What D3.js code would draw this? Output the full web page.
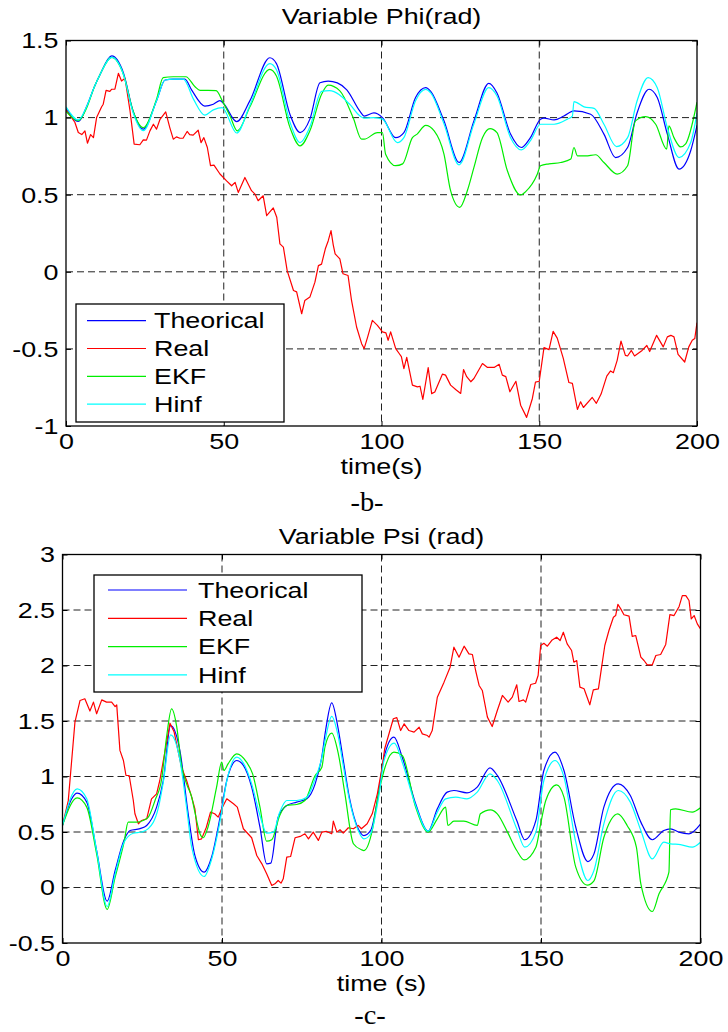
<!DOCTYPE html>
<html>
<head>
<meta charset="utf-8">
<script src="https://cdn.jsdelivr.net/npm/d3@7"></script>
<style>
  body { margin: 0; background: #fff; }
  svg { display: block; }
</style>
</head>
<body>
<div id="chart"></div>
<script>
// ---- data: [time (s), value (rad)] ----
var phiTheorical = [[0,1.06],[3.9,0.975],[6.5,1.07],[9,1.2],[10.8,1.28],[14.5,1.40],[18.2,1.29],[21.3,1.04],[24.5,0.925],[28.7,1.11],[31.4,1.244],[34,1.25],[37.7,1.25],[39.8,1.18],[44,1.075],[46.7,1.087],[48.8,1.11],[50,1.09],[54.1,0.974],[58.3,1.11],[64.6,1.388],[66.7,1.35],[71,1.02],[74.2,0.903],[77.3,0.99],[80.5,1.226],[83.1,1.237],[86,1.225],[89,1.18],[93.2,1.04],[94.5,1.01],[97.6,1.03],[100.3,1.0],[104.5,0.87],[107.1,0.903],[110.8,1.13],[114,1.194],[115.6,1.17],[119.8,0.979],[124.6,0.709],[129.3,0.979],[134,1.222],[136.6,1.16],[140.9,0.893],[144.3,0.806],[147.2,0.87],[150.4,0.99],[151.5,0.997],[154.7,0.985],[157.8,1.01],[161,1.043],[166.3,1.022],[170.5,0.893],[174.2,0.741],[178,0.806],[181,1.03],[184.8,1.184],[187.4,1.13],[190.6,0.893],[194.3,0.666],[198,0.785],[200,0.95]];

var phiReal = [[0,1.05],[0.7,1.03],[2.8,0.97],[3.9,0.903],[5,0.89],[6,0.914],[6.8,0.834],[7.8,0.89],[8.7,0.87],[9.7,1.0],[11.3,1.07],[11.8,1.087],[12.7,1.177],[13.9,1.17],[14.5,1.184],[15.5,1.184],[16.6,1.287],[17.6,1.237],[18.7,1.255],[20.3,1.043],[21.6,0.828],[23.4,0.824],[24.5,0.856],[25.5,0.854],[26.6,0.914],[27.7,0.957],[28.7,0.925],[29.8,0.989],[31.6,1.037],[32.9,0.935],[34,0.86],[35,0.875],[36.1,0.866],[37.1,0.866],[38.4,0.91],[39.2,0.89],[40.3,0.886],[41.9,0.918],[42.8,0.838],[43.7,0.87],[44.8,0.806],[45.8,0.688],[46.9,0.692],[48.8,0.634],[50.9,0.59],[52.5,0.558],[53.6,0.58],[54.6,0.515],[56.7,0.612],[58.8,0.526],[59.9,0.504],[60.9,0.461],[62.5,0.493],[63.6,0.364],[65.7,0.414],[66.8,0.354],[67.8,0.181],[68.9,0.16],[70.1,0.008],[72.1,-0.121],[73.1,-0.13],[74.7,-0.272],[75.7,-0.186],[77.3,-0.164],[78.9,-0.067],[80,0.04],[81,0.05],[82.2,0.149],[83.1,0.2],[84,0.267],[84.7,0.175],[85.3,0.116],[86.8,0.084],[87.8,-0.013],[89.4,-0.024],[90.5,-0.186],[92.1,-0.358],[93.7,-0.466],[94.5,-0.498],[95.6,-0.424],[97.1,-0.315],[98.7,-0.347],[100.3,-0.39],[101.4,-0.396],[102.1,-0.444],[102.9,-0.39],[104.5,-0.498],[105.6,-0.53],[106.3,-0.55],[107.1,-0.628],[108,-0.555],[109.8,-0.735],[111.4,-0.746],[112.2,-0.742],[113.1,-0.828],[114.8,-0.621],[115.9,-0.79],[116.9,-0.78],[119.3,-0.664],[120.3,-0.67],[121.9,-0.735],[123.5,-0.763],[125.1,-0.789],[126,-0.634],[127,-0.68],[128.3,-0.713],[129.3,-0.692],[132,-0.595],[133.6,-0.62],[135.7,-0.62],[137.3,-0.6],[138.3,-0.67],[139.4,-0.68],[140.7,-0.778],[142.6,-0.71],[144.1,-0.865],[146,-0.944],[147.8,-0.823],[148.8,-0.715],[150,-0.71],[151.5,-0.492],[153.1,-0.505],[154.4,-0.386],[155.7,-0.43],[157.6,-0.56],[159.4,-0.718],[160.5,-0.724],[162.1,-0.893],[163.1,-0.843],[164,-0.88],[166.8,-0.815],[168.1,-0.853],[169.6,-0.793],[171.4,-0.677],[172.6,-0.643],[173.5,-0.654],[174.7,-0.574],[175.9,-0.449],[177.3,-0.542],[178,-0.546],[179.2,-0.51],[180.2,-0.546],[182.6,-0.51],[184.1,-0.478],[185,-0.517],[187.2,-0.412],[189.3,-0.487],[190.6,-0.422],[191.7,-0.412],[192.7,-0.422],[194,-0.535],[196.1,-0.585],[197.4,-0.487],[198.5,-0.444],[199.3,-0.433],[200,-0.33]];

var phiEKF = [[0,1.04],[3.9,0.98],[6.5,1.06],[9,1.2],[10.8,1.28],[14.5,1.39],[18.2,1.28],[21.3,1.04],[24.5,0.935],[28.7,1.12],[30.8,1.259],[34,1.265],[38,1.265],[40.9,1.2],[42.5,1.177],[47.6,1.175],[49.5,1.11],[52,1.01],[54.3,0.914],[58.3,1.07],[64.6,1.313],[66.7,1.27],[71,0.935],[74.2,0.817],[77.3,0.914],[81,1.151],[83.1,1.21],[86.8,1.173],[91,1.0],[93.7,0.86],[94.5,0.86],[98.7,0.903],[100.3,0.903],[101.3,0.763],[104.5,0.688],[106.7,0.70],[109.8,0.87],[111.3,0.893],[114,0.95],[116.7,0.914],[119.8,0.763],[121.9,0.526],[124.8,0.418],[127.2,0.526],[129.3,0.677],[132,0.87],[134.4,0.929],[136.6,0.903],[139.9,0.655],[144.1,0.498],[145.7,0.52],[149.4,0.634],[150.4,0.688],[153.1,0.70],[156.8,0.709],[160,0.731],[161,0.806],[162.1,0.752],[164.7,0.752],[167.9,0.759],[170.5,0.709],[174.7,0.634],[178,0.688],[180.5,0.979],[183.7,1.006],[186.9,0.957],[190.4,0.796],[191.1,0.946],[192.7,0.87],[194.8,0.81],[196.4,0.83],[200,1.1]];

var phiHinf = [[0,1.07],[3.9,0.985],[6.5,1.07],[9,1.2],[10.8,1.28],[14.5,1.39],[18.2,1.28],[21.3,1.03],[24.5,0.915],[28.7,1.11],[31.4,1.244],[34,1.25],[37.2,1.25],[40.4,1.12],[44,1.016],[46.7,1.05],[49.5,1.065],[54.1,0.9],[58.3,1.08],[64.6,1.35],[66.7,1.31],[71,0.97],[74.2,0.838],[77.3,0.94],[81,1.17],[83.5,1.175],[89.9,1.087],[93.2,1.01],[94.5,0.997],[97.6,1.0],[100.3,0.99],[105,0.838],[107.1,0.87],[110.8,1.11],[114,1.183],[115.6,1.16],[119.8,0.96],[124.6,0.694],[129.3,0.96],[134,1.194],[136.6,1.14],[140.9,0.87],[144.3,0.791],[147.2,0.85],[150.4,0.957],[154.7,0.957],[158.9,0.99],[160.5,1.01],[161,1.104],[164.2,1.07],[167.4,1.06],[170.5,0.957],[174.5,0.812],[178,0.87],[181,1.108],[184.5,1.259],[187.4,1.194],[190.6,0.935],[194.3,0.741],[198,0.838],[200,1.03]];

var psiTheorical = [[0,0.56],[2.9,0.80],[4.6,0.85],[7.6,0.769],[10.7,0.333],[14,-0.123],[16.5,0.153],[19.3,0.429],[21.2,0.514],[24.3,0.53],[26.4,0.559],[29.5,0.724],[31.6,0.964],[33.9,1.459],[36.8,1.234],[39.4,0.664],[41.5,0.288],[44.4,0.138],[46.7,0.27],[49.4,0.633],[51.5,0.964],[54.6,1.144],[56.7,1.1],[59.3,0.904],[61.9,0.543],[64,0.213],[65.3,0.22],[67.6,0.633],[70.3,0.739],[73.4,0.769],[76.6,0.80],[79.2,0.934],[81.3,1.18],[82.5,1.42],[84.4,1.664],[86.3,1.45],[88,1.15],[90,0.8],[92.7,0.53],[94.5,0.468],[96.6,0.514],[99.2,0.874],[100.8,1.174],[103.9,1.354],[106.5,1.174],[110.7,0.754],[114.6,0.507],[117.5,0.709],[120.6,0.859],[122.7,0.874],[126.8,0.853],[130,0.904],[134,1.078],[136.3,1.01],[142.4,0.604],[144.9,0.43],[148.4,0.604],[150.9,1.054],[154.4,1.219],[157.2,1.054],[160.9,0.543],[164.7,0.234],[166.6,0.303],[169.7,0.724],[174.2,0.934],[178,0.829],[181.3,0.589],[184.9,0.43],[188.5,0.514],[190.6,0.529],[193.2,0.499],[196.4,0.484],[200,0.57]];

var psiReal = [[0,0.56],[1.8,0.78],[3.9,1.49],[5.5,1.685],[7,1.70],[8.6,1.59],[9.7,1.67],[10.7,1.565],[12.3,1.69],[13.8,1.67],[15.4,1.67],[16.5,1.63],[17,1.645],[18,1.235],[19.1,1.144],[19.9,1.009],[20.9,1.009],[22.2,0.784],[22.7,0.664],[23.8,0.574],[24.8,0.604],[26.4,0.619],[27.9,0.799],[29.5,0.844],[30.5,0.964],[33.7,1.48],[35,1.40],[37.3,1.084],[38.9,0.964],[40.5,0.814],[41.5,0.709],[42.6,0.43],[43.6,0.438],[45.1,0.543],[46.4,0.679],[47.7,0.664],[48.8,0.634],[49.9,0.709],[51.5,0.799],[53.6,0.754],[54.8,0.724],[56.7,0.529],[59.3,0.448],[60.9,0.288],[62.5,0.213],[64,0.123],[65.6,0.018],[66.6,0.033],[67.6,0.063],[68.5,0.039],[69.2,0.078],[70.3,0.273],[71.5,0.279],[72.9,0.448],[74.5,0.46],[76,0.484],[77.1,0.438],[78.6,0.499],[80.2,0.424],[81.3,0.499],[82.8,0.505],[84.4,0.484],[84.9,0.598],[86,0.499],[87,0.52],[88,0.49],[89.6,0.538],[91.2,0.529],[92.7,0.559],[93.7,0.529],[95.5,0.574],[97.1,0.664],[98.7,0.844],[100.2,1.084],[101,1.25],[103.7,1.52],[104.8,1.53],[106,1.414],[107.1,1.474],[108.6,1.414],[110.2,1.4],[111.8,1.444],[112.8,1.384],[114.4,1.369],[114.9,1.354],[115.9,1.414],[117.5,1.714],[119.6,1.85],[121.5,1.985],[122.7,2.165],[124.3,2.075],[125.9,2.174],[127.4,2.105],[128.5,2.099],[129.5,1.955],[130.6,1.82],[131.6,1.775],[133.2,1.535],[134.7,1.45],[136.3,1.595],[137.9,1.73],[139.7,1.67],[141,1.715],[142.4,1.826],[143.1,1.676],[144.5,1.69],[145.2,1.67],[146.8,1.829],[148.3,1.84],[149.1,1.91],[149.9,2.18],[150.9,2.2],[152,2.174],[153.5,2.23],[154.9,2.255],[156,2.225],[157,2.3],[158.2,2.195],[159.6,2.135],[160.3,2.03],[161.2,2.045],[162.2,1.805],[163.5,1.79],[165.3,1.646],[166.4,1.78],[168,1.79],[169,1.985],[170,2.18],[171.3,2.315],[172.7,2.435],[173.4,2.45],[174.1,2.55],[175,2.51],[176,2.457],[177.6,2.445],[178.6,2.262],[179.7,2.27],[181.3,2.075],[182.3,2.045],[183.3,2.006],[184.9,2.006],[186,2.09],[187.5,2.099],[189.1,2.19],[190.4,2.459],[191.7,2.45],[193.3,2.532],[194.3,2.63],[195.4,2.63],[196.4,2.586],[197.1,2.42],[198,2.45],[199,2.375],[200,2.33]];

var psiEKF = [[0,0.56],[4.6,0.808],[7.6,0.724],[10.7,0.303],[14,-0.198],[16.5,0.093],[19.3,0.408],[20.6,0.589],[23.2,0.589],[25.3,0.604],[26.9,0.634],[29,0.784],[31.1,0.98],[32.6,1.35],[34.2,1.61],[35.8,1.45],[37.3,1.1],[38.9,0.934],[40.5,0.814],[41.5,0.679],[43.1,0.484],[44.1,0.448],[45.6,0.543],[48.3,0.904],[49.9,1.129],[50.6,1.054],[51.9,1.114],[54.6,1.204],[57.7,1.129],[59.6,1.024],[61.9,0.724],[64,0.417],[65.6,0.43],[68.1,0.649],[70.3,0.739],[73.4,0.748],[76,0.784],[79.2,1.009],[81.3,1.084],[82.3,1.27],[84.4,1.39],[86.5,1.2],[88.5,0.85],[91.2,0.394],[93.7,0.34],[94.5,0.333],[97.1,0.514],[98.7,0.784],[100.8,1.054],[103.9,1.219],[106.5,1.189],[110.7,0.724],[114.6,0.499],[117.5,0.619],[120.1,0.724],[120.8,0.559],[122.7,0.598],[125.8,0.598],[130,0.559],[131,0.664],[134.2,0.7],[136.3,0.664],[139.5,0.499],[142.4,0.333],[144.7,0.249],[148.4,0.363],[150,0.589],[151.5,0.784],[154.9,0.924],[157.2,0.814],[160.9,0.183],[164.5,0.021],[166.6,0.06],[169.7,0.45],[174.1,0.664],[177,0.559],[179.9,0.363],[181.3,0.033],[184.9,-0.216],[187,-0.057],[190.1,0.138],[190.6,0.7],[192.2,0.709],[197.4,0.679],[200,0.718]];

var psiHinf = [[0,0.56],[4.6,0.889],[7.6,0.8],[10.7,0.33],[14,-0.171],[16.5,0.12],[19.3,0.408],[22.2,0.489],[24.8,0.5],[26.9,0.53],[30,0.712],[31.6,0.95],[33.9,1.375],[36.8,1.15],[39,0.7],[40.5,0.363],[44.4,0.099],[46.7,0.25],[49.4,0.6],[51.5,0.96],[54.6,1.174],[56.7,1.12],[59.3,0.934],[61.9,0.649],[64,0.489],[66.1,0.499],[68.1,0.679],[70.3,0.784],[73.4,0.784],[76.6,0.814],[79.2,0.979],[81.3,1.17],[82.5,1.35],[84.4,1.541],[86.3,1.38],[88,1.1],[90,0.78],[92.7,0.514],[94.5,0.438],[96.6,0.484],[99.2,0.829],[100.8,1.144],[104,1.30],[106.5,1.129],[110.7,0.739],[114.6,0.507],[117.5,0.679],[120.1,0.799],[123.3,0.814],[126.8,0.799],[130,0.859],[134,1.024],[136.3,0.964],[142.4,0.529],[144.9,0.363],[148.4,0.499],[150.9,0.964],[154.4,1.144],[157.2,0.994],[160.9,0.408],[164.7,0.063],[166.6,0.153],[169.7,0.574],[174.2,0.874],[178,0.769],[181.3,0.514],[184.9,0.258],[188.5,0.408],[190.6,0.393],[193.7,0.387],[197.4,0.363],[200,0.408]];

var xTicks = [0, 50, 100, 150, 200];
var phiTicks = [-1, -0.5, 0, 0.5, 1, 1.5];
var psiTicks = [-0.5, 0, 0.5, 1, 1.5, 2, 2.5, 3];
var seriesNames = ["Theorical", "Real", "EKF", "Hinf"];
var seriesColors = ["#0000ff", "#ff0000", "#00ee00", "#00ffff"];

// ---- drawing ----
var FONT = "'Liberation Sans', Arial, Helvetica, sans-serif";
var FS = 21.5;    // font size
var SX = 1.25;    // the source figure is stretched horizontally

var svg = d3.select("#chart")
    .append("svg")
    .attr("width", 728)
    .attr("height", 1032);

function addText(x, y, txt, anchor, family, size, sx) {
    return svg.append("text")
        .attr("transform", `translate(${x},${y}) scale(${sx || SX},1)`)
        .attr("text-anchor", anchor || "middle")
        .attr("font-family", family || FONT)
        .attr("font-size", size || FS)
        .attr("fill", "#000")
        .text(txt);
}

function drawPanel(cfg) {
    var w = cfg.right - cfg.left;
    var h = cfg.bottom - cfg.top;

    var xScale = d3.scaleLinear().domain([0, 200]).range([0, w]);
    var yScale = d3.scaleLinear().domain(cfg.yDomain).range([h, 0]);

    var g = svg.append("g")
        .attr("transform", `translate(${cfg.left},${cfg.top})`);

    // grid
    g.append("g").selectAll("line")
        .data(xTicks.slice(1, -1))
        .enter().append("line")
        .attr("x1", d => xScale(d)).attr("x2", d => xScale(d))
        .attr("y1", 0).attr("y2", h)
        .attr("stroke", "#222").attr("stroke-width", 1)
        .attr("stroke-dasharray", "7,4");
    g.append("g").selectAll("line")
        .data(cfg.yTicks.slice(1, -1))
        .enter().append("line")
        .attr("y1", d => yScale(d)).attr("y2", d => yScale(d))
        .attr("x1", 0).attr("x2", w)
        .attr("stroke", "#222").attr("stroke-width", 1)
        .attr("stroke-dasharray", "7,4");

    // lines
    var clipId = "clip" + cfg.id;
    g.append("clipPath").attr("id", clipId)
        .append("rect").attr("width", w).attr("height", h);

    var smooth = d3.line()
        .x(d => xScale(d[0])).y(d => yScale(d[1]))
        .curve(d3.curveMonotoneX);
    var rough = d3.line()
        .x(d => xScale(d[0])).y(d => yScale(d[1]));

    cfg.series.forEach(function (s, i) {
        g.append("path")
            .datum(s)
            .attr("clip-path", `url(#${clipId})`)
            .attr("fill", "none")
            .attr("stroke", seriesColors[i])
            .attr("stroke-width", 1.2)
            .attr("stroke-linejoin", "round")
            .attr("d", i === 1 ? rough : smooth);
    });

    // axes (ticks point inward, MATLAB style)
    function styleAxis(a) {
        a.attr("font-family", FONT).attr("font-size", FS);
        a.select(".domain").remove();
        a.selectAll(".tick line").attr("stroke", "#000");
        a.selectAll(".tick text").attr("fill", "#000");
    }
    var bottomAxis = g.append("g")
        .attr("transform", `translate(0,${h})`)
        .call(d3.axisBottom(xScale).tickValues(xTicks).tickSize(-5).tickPadding(8)
            .tickFormat(d => String(d)));
    styleAxis(bottomAxis);
    bottomAxis.selectAll(".tick text").attr("transform", `scale(${SX},1)`);

    var leftAxis = g.append("g")
        .call(d3.axisLeft(yScale).tickValues(cfg.yTicks).tickSize(-5).tickPadding(6)
            .tickFormat(d => String(d)));
    styleAxis(leftAxis);
    leftAxis.selectAll(".tick text").attr("transform", `scale(${SX},1)`).attr("dy", "0.34em");

    var topAxis = g.append("g")
        .call(d3.axisTop(xScale).tickValues(xTicks).tickSize(-5).tickFormat(""));
    styleAxis(topAxis);
    var rightAxis = g.append("g")
        .attr("transform", `translate(${w},0)`)
        .call(d3.axisRight(yScale).tickValues(cfg.yTicks).tickSize(-5).tickFormat(""));
    styleAxis(rightAxis);

    // frame
    g.append("rect")
        .attr("width", w).attr("height", h)
        .attr("fill", "none").attr("stroke", "#000").attr("stroke-width", 1.3);

    // legend
    var L = cfg.legend;
    var lg = svg.append("g");
    lg.append("rect")
        .attr("x", L.x0).attr("y", L.y0)
        .attr("width", L.x1 - L.x0).attr("height", L.y1 - L.y0)
        .attr("fill", "#fff").attr("stroke", "#000").attr("stroke-width", 1.3);
    seriesNames.forEach(function (name, i) {
        var yy = L.first + i * L.step;
        lg.append("line")
            .attr("x1", L.lx0).attr("x2", L.lx1)
            .attr("y1", yy).attr("y2", yy)
            .attr("stroke", seriesColors[i]).attr("stroke-width", 1.2);
        lg.append("text")
            .attr("transform", `translate(${L.tx},${yy + 7.7}) scale(${SX},1)`)
            .attr("font-family", FONT).attr("font-size", FS)
            .text(name);
    });

    // labels
    var cx = cfg.left + w / 2;
    addText(cx, cfg.titleY, cfg.title);
    addText(cx, cfg.xlabelY, cfg.xlabel);
    addText(cfg.tagX, cfg.tagY, cfg.tag, "middle", "'Liberation Serif', 'Times New Roman', serif", 27, 1.05);
}

drawPanel({
    id: "phi",
    left: 66, right: 697, top: 40.5, bottom: 426,
    yDomain: [-1, 1.5], yTicks: phiTicks,
    series: [phiTheorical, phiReal, phiEKF, phiHinf],
    title: "Variable Phi(rad)", titleY: 24,
    xlabel: "time(s)", xlabelY: 474,
    tag: "-b-", tagX: 367, tagY: 511,
    legend: { x0: 76, x1: 284, y0: 304, y1: 422, lx0: 87, lx1: 146, tx: 154, first: 320.7, step: 27.8 }
});

drawPanel({
    id: "psi",
    left: 62.5, right: 700.5, top: 554.5, bottom: 943,
    yDomain: [-0.5, 3], yTicks: psiTicks,
    series: [psiTheorical, psiReal, psiEKF, psiHinf],
    title: "Variable Psi (rad)", titleY: 544,
    xlabel: "time (s)", xlabelY: 991,
    tag: "-c-", tagX: 370, tagY: 1024,
    legend: { x0: 94, x1: 362, y0: 575, y1: 692, lx0: 108, lx1: 187, tx: 198, first: 590, step: 28.3 }
});
</script>
</body>
</html>
